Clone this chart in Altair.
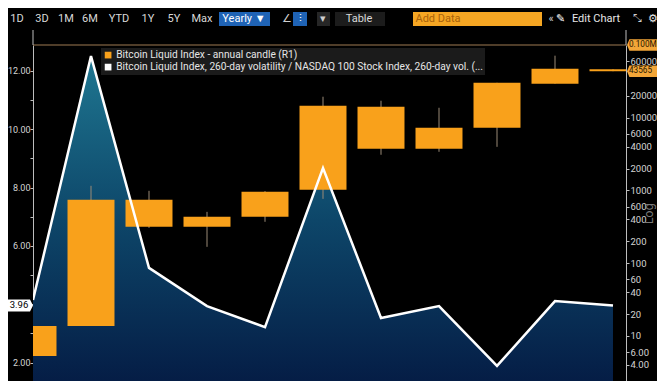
import altair as alt
import pandas as pd

# ---------------- data ----------------
YEARS = [2012, 2013, 2014, 2015, 2016, 2017, 2018, 2019, 2020, 2021, 2022]
VOL_RATIO = [4.15, 12.51, 5.25, 3.94, 3.22, 8.67, 3.53, 3.94, 1.89, 4.11, 3.96]
OPEN = [5.3, 13.7, 743, 316, 434, 1021, 14160, 3742, 7280, 29360, 46500]
CLOSE = [13.7, 743, 316, 434, 959, 14620, 3742, 7280, 30270, 47200, 43565]
HIGH = [13.7, 1159, 989, 508, 980, 19450, 17130, 13710, 30270, 71300, 46500]
LOW = [5.3, 13.7, 306, 168, 371, 767, 3097, 3402, 3980, 29360, 43565]
SERIES = [
    "Bitcoin Liquid Index - annual candle (R1)",
    "Bitcoin Liquid Index, 260-day volatility / NASDAQ 100 Stock Index, 260-day vol. (...",
]
LEFT_TICKS = [2, 3, 4, 5, 6, 7, 8, 9, 10, 11, 12]
RIGHT_TICKS = [4, 6, 10, 20, 40, 60, 100, 200, 400, 600, 1000, 2000, 4000,
               6000, 10000, 20000, 60000]
RIGHT_MAX = 100000
LAST_RATIO_LABEL = "3.96"
RIGHT_TAGS = ["0.100M", "43565"]
RIGHT_TAG_VALUES = [RIGHT_MAX, CLOSE[-1]]

TOOLBAR_LABELS = ["1D", "3D", "1M", "6M", "YTD", "1Y", "5Y", "Max", "Yearly \u25BC",
                  "\u2220", "\u2AF6", "\u25BE", "Table", "Add Data", "\u00AB",
                  "\u270E", "Edit Chart", "\u2921", "\u2699"]

# ---------------- layout / style ----------------
W, H = 593, 336
ORANGE = "#f9a11b"
FONT = "Roboto, sans-serif"
X_DOMAIN = [0, W / 58.0]
L_DOMAIN = [1.371, 12.89]
R_DOMAIN = [2.403, RIGHT_MAX]
HALF = 0.405

df = pd.DataFrame({
    "i": list(range(len(YEARS))), "year": YEARS, "ratio": VOL_RATIO,
    "open": OPEN, "close": CLOSE, "high": HIGH, "low": LOW,
})
df["series"] = SERIES[0]


def xs(field="i:Q"):
    return alt.X(field, scale=alt.Scale(domain=X_DOMAIN, nice=False, zero=False), axis=None)


lscale = alt.Scale(domain=L_DOMAIN, nice=False, zero=False)
rscale = alt.Scale(type="log", domain=R_DOMAIN, nice=False)

grad = alt.Gradient(
    gradient="linear",
    stops=[alt.GradientStop(color="#1f7791", offset=0),
           alt.GradientStop(color="#0d4669", offset=0.45),
           alt.GradientStop(color="#03133d", offset=1)],
    x1=0, x2=0, y1=0, y2=1,
)

area = alt.Chart(df).mark_area(color=grad, clip=True).encode(
    x=xs(),
    y=alt.Y("ratio:Q", scale=lscale, axis=alt.Axis(
        orient="left", values=LEFT_TICKS,
        labelExpr="datum.value % 2 == 0 && datum.value != 4 ? format(datum.value, '.2f') : ''",
        labelColor="#d4d4d4", labelFontSize=9, labelFont=FONT, labelPadding=0,
        tickColor="#bdbdbd", tickSize=3, domainColor="#bdbdbd", grid=False, title=None,
    )),
)

top_rule = alt.Chart(pd.DataFrame({"v": [RIGHT_MAX]})).mark_rule(
    color="#9d7a52", strokeWidth=1.2).encode(y=alt.Y("v:Q", scale=rscale, axis=None))

wick = alt.Chart(df).mark_rule(color="#9a8a76", strokeWidth=1, clip=True).encode(
    x=xs(), y=alt.Y("low:Q", scale=rscale, axis=None), y2="high:Q")

box = alt.Chart(df).transform_calculate(
    lo=f"datum.i - {HALF}", hi=f"datum.i + {HALF}"
).mark_bar(clip=True).encode(
    x=xs("lo:Q"), x2="hi:Q",
    y=alt.Y("open:Q", scale=rscale, axis=alt.Axis(
        orient="right", values=RIGHT_TICKS,
        labelExpr="datum.value < 10 ? format(datum.value, '.2f') : format(datum.value, 'd')",
        labelOverlap=False, labelColor="#d4d4d4", labelFontSize=9.5, labelFont=FONT,
        labelPadding=1, tickColor="#bdbdbd", tickSize=3, domainColor="#bdbdbd", grid=False,
        title="Log", titleAngle=270, titleX=22, titleY=168, titleColor="#7a7a7a",
        titleFontSize=12, titleFontWeight="normal", titleAlign="center",
        titleBaseline="middle", titleFont="DejaVu Sans",
    )),
    y2="close:Q",
    color=alt.Color("series:N", scale=alt.Scale(domain=SERIES, range=[ORANGE, "#ffffff"]),
                    legend=alt.Legend(
                        title=None, orient="none", legendX=68, legendY=3,
                        fillColor="#1b1b1b", padding=2, symbolType="square",
                        symbolSize=45, symbolStrokeWidth=0, labelColor="#e6e6e6",
                        labelFontSize=10.2, labelFont=FONT, labelLimit=600,
                        rowPadding=1, labelOffset=3, direction="vertical")),
)

line = alt.Chart(df).mark_line(color="white", strokeWidth=2.5, clip=True).encode(
    x=xs(), y=alt.Y("ratio:Q", scale=lscale, axis=None))

# value tags on the axes
left_tag_df = pd.DataFrame({"v": [VOL_RATIO[-1]], "t": [LAST_RATIO_LABEL]})
left_tag_box = alt.Chart(left_tag_df).mark_point(
    shape="M-1,-0.4 L0.8,-0.4 L1,0 L0.8,0.4 L-1,0.4 Z", size=900, filled=True,
    color="white", opacity=1, strokeWidth=0).encode(
    x=alt.value(-15), y=alt.Y("v:Q", scale=lscale, axis=None))
left_tag_txt = alt.Chart(left_tag_df).mark_text(
    color="black", fontSize=9.5, font=FONT, baseline="middle").encode(
    x=alt.value(-14), y=alt.Y("v:Q", scale=lscale, axis=None), text="t:N")

right_tag_df = pd.DataFrame({"v": RIGHT_TAG_VALUES, "t": RIGHT_TAGS})
right_tag_box = alt.Chart(right_tag_df).mark_point(
    shape="M-1,0 L-0.85,-0.36 L1,-0.36 L1,0.36 L-0.85,0.36 Z", size=1024, filled=True,
    color="#f3a638", opacity=1, strokeWidth=0).encode(
    x=alt.value(610), y=alt.Y("v:Q", scale=rscale, axis=None))
right_tag_txt = alt.Chart(right_tag_df).mark_text(
    color="#2a1800", fontSize=8.2, font=FONT, baseline="middle", align="left").encode(
    x=alt.value(596), y=alt.Y("v:Q", scale=rscale, axis=None), text="t:N")

# toolbar (interface chrome above the plot)
TB_X = [-16, 9, 33, 57, 86, 115, 141, 169, 211, 254, 267, 290, 326, 405, 518, 527, 563, 604, 620]
TB_C = ["#d9d9d9"] * 8 + ["#ffffff", "#cfcfcf", "#ffffff", "#cfcfcf", "#d9d9d9",
                          "#a8620a", "#d9d9d9", "#ffffff", "#e6e6e6", "#cfcfcf", "#e6e6e6"]
tb_text_df = pd.DataFrame({"label": TOOLBAR_LABELS, "x": TB_X, "c": TB_C})
tb_box_df = pd.DataFrame({
    "x": [186, 260, 284, 302, 380],
    "x2": [237, 274, 297, 352, 509],
    "fill": ["#1f63b5", "#1f63b5", "#262626", "#1c1c1c", "#f5a623"],
})
tb_boxes = alt.Chart(tb_box_df).mark_rect().encode(
    x=alt.X("x:Q", scale=None), x2="x2:Q",
    y=alt.value(-33), y2=alt.value(-19), color=alt.Color("fill:N", scale=None))
tb_text = alt.Chart(tb_text_df).mark_text(
    fontSize=11, font=FONT, baseline="middle").encode(
    x=alt.X("x:Q", scale=None), y=alt.value(-26), text="label:N",
    color=alt.Color("c:N", scale=None))

axis_ext = alt.Chart(pd.DataFrame({"x": [0, W]})).mark_rule(
    color="#bdbdbd", strokeWidth=1).encode(
    x=alt.X("x:Q", scale=None), y=alt.value(-15), y2=alt.value(0))

chart = alt.layer(
    area, top_rule, wick, box, line,
    left_tag_box, left_tag_txt, right_tag_box, right_tag_txt,
    tb_boxes, tb_text, axis_ext,
).resolve_scale(
    x="independent", y="independent", color="independent"
).properties(
    width=W, height=H,
    autosize=alt.AutoSizeParams(type="none"),
    padding={"left": 25, "top": 37, "right": 31, "bottom": 0},
).configure(
    background="black"
).configure_view(strokeWidth=0)

chart.save("out.html", embed_options={"renderer": "svg", "actions": False})
